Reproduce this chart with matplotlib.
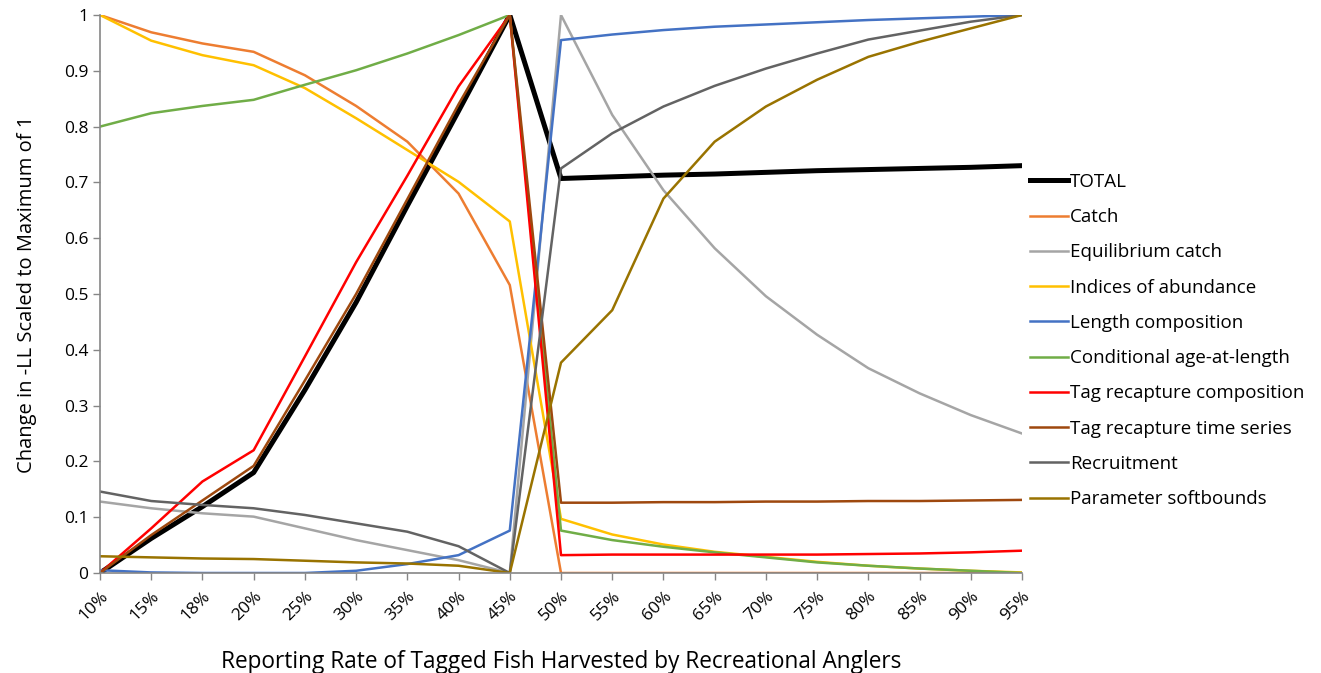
import matplotlib
matplotlib.use("Agg")
import matplotlib.pyplot as plt

plt.rcParams['font.family'] = ['Open Sans', 'DejaVu Sans']

rates = ['10%', '15%', '18%', '20%', '25%', '30%', '35%', '40%', '45%', '50%',
         '55%', '60%', '65%', '70%', '75%', '80%', '85%', '90%', '95%']

total = [0.0, 0.062, 0.119, 0.180, 0.328, 0.485, 0.658, 0.828, 1.0, 0.707,
         0.710, 0.713, 0.715, 0.718, 0.721, 0.723, 0.725, 0.727, 0.730]
catch = [1.0, 0.969, 0.949, 0.934, 0.892, 0.837, 0.773, 0.680, 0.516, 0.0,
         0.0, 0.0, 0.0, 0.0, 0.0, 0.0, 0.0, 0.0, 0.0]
equil_catch = [0.128, 0.116, 0.107, 0.101, 0.080, 0.059, 0.041, 0.023, 0.0, 1.0,
               0.821, 0.686, 0.582, 0.496, 0.427, 0.367, 0.322, 0.283, 0.250]
indices = [1.0, 0.954, 0.928, 0.910, 0.869, 0.815, 0.758, 0.701, 0.630, 0.097,
           0.069, 0.051, 0.038, 0.029, 0.020, 0.013, 0.008, 0.004, 0.001]
length_comp = [0.005, 0.001, 0.0, 0.0, 0.0, 0.004, 0.016, 0.032, 0.076, 0.955,
               0.965, 0.973, 0.979, 0.983, 0.987, 0.991, 0.994, 0.997, 1.0]
cond_age = [0.800, 0.824, 0.837, 0.848, 0.875, 0.901, 0.931, 0.964, 1.0, 0.076,
            0.059, 0.047, 0.037, 0.028, 0.019, 0.013, 0.008, 0.004, 0.0]
tag_comp = [0.0, 0.080, 0.164, 0.220, 0.388, 0.557, 0.712, 0.872, 1.0, 0.032,
            0.033, 0.033, 0.033, 0.033, 0.033, 0.034, 0.035, 0.037, 0.040]
tag_ts = [0.0, 0.068, 0.130, 0.192, 0.345, 0.500, 0.670, 0.840, 1.0, 0.126,
          0.126, 0.127, 0.127, 0.128, 0.128, 0.129, 0.129, 0.130, 0.131]
recruit = [0.146, 0.129, 0.122, 0.116, 0.104, 0.089, 0.074, 0.048, 0.0, 0.725,
           0.788, 0.836, 0.873, 0.904, 0.931, 0.956, 0.972, 0.988, 1.0]
softbounds = [0.030, 0.028, 0.026, 0.025, 0.022, 0.019, 0.017, 0.013, 0.0, 0.377,
              0.471, 0.671, 0.773, 0.836, 0.884, 0.925, 0.952, 0.976, 1.0]

series = [
    ('TOTAL', total, '#000000', 3.6),
    ('Catch', catch, '#ED7D31', 1.8),
    ('Equilibrium catch', equil_catch, '#A5A5A5', 1.8),
    ('Indices of abundance', indices, '#FFC000', 1.8),
    ('Length composition', length_comp, '#4472C4', 1.8),
    ('Conditional age-at-length', cond_age, '#70AD47', 1.8),
    ('Tag recapture composition', tag_comp, '#FF0000', 1.8),
    ('Tag recapture time series', tag_ts, '#9E480E', 1.8),
    ('Recruitment', recruit, '#636363', 1.8),
    ('Parameter softbounds', softbounds, '#997300', 1.8),
]

fig = plt.figure(figsize=(13.21, 6.73), dpi=100)
ax = fig.add_axes([100 / 1321, 1 - 573 / 673, 922 / 1321, 558 / 673])

x = list(range(len(rates)))
for name, vals, col, lw in series:
    ax.plot(x, vals, color=col, lw=lw, label=name)

ax.set_xlim(0, len(rates) - 1)
ax.set_ylim(0, 1)
ax.set_xticks(x)
ax.set_xticklabels(rates, rotation=45, ha='right', rotation_mode='anchor')
ax.set_yticks([i / 10 for i in range(11)])
ax.set_yticklabels(['0'] + ['%.1f' % (i / 10) for i in range(1, 10)] + ['1'])
ax.tick_params(axis='both', colors='#868686', labelcolor='black', labelsize=12.5,
               length=5, width=1)
ax.tick_params(axis='x', pad=6)
for s in ['top', 'right']:
    ax.spines[s].set_visible(False)
for s in ['left', 'bottom']:
    ax.spines[s].set_color('#868686')
    ax.spines[s].set_linewidth(1.2)

ax.set_xlabel('Reporting Rate of Tagged Fish Harvested by Recreational Anglers',
              fontsize=16.3, labelpad=19)
ax.set_ylabel('Change in -LL Scaled to Maximum of 1', fontsize=14.5, labelpad=19)

ax.legend(loc='center left', bbox_to_anchor=(1030 / 1321, 1 - 340.5 / 673),
          bbox_transform=fig.transFigure, frameon=False, fontsize=13.5,
          handlelength=2.0, handletextpad=0.15, labelspacing=0.92,
          borderpad=0, borderaxespad=0)

fig.savefig('out.png', dpi=100)
